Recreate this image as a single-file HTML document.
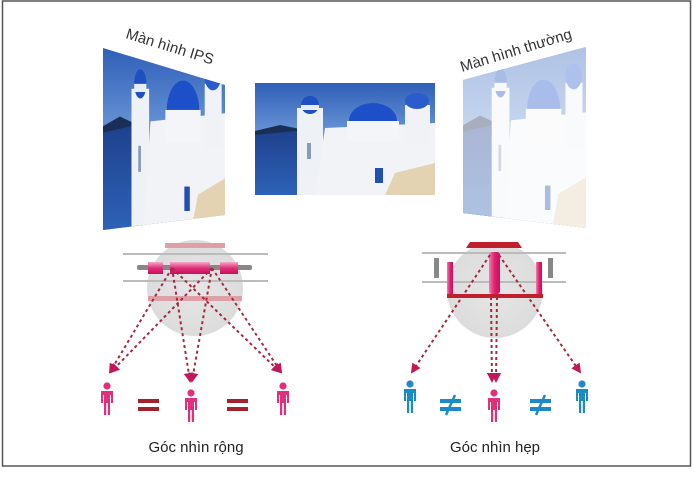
<!DOCTYPE html>
<html><head><meta charset="utf-8"><style>
html,body{margin:0;padding:0;background:#fff;}
svg{display:block;}
text{font-family:"Liberation Sans",sans-serif;}
</style></head><body>
<svg width="694" height="480" viewBox="0 0 694 480" xmlns="http://www.w3.org/2000/svg">
<defs>
<linearGradient id="sky" x1="0" y1="0" x2="0" y2="1"><stop offset="0" stop-color="#2f5fb8"/><stop offset="0.5" stop-color="#6f9ad8"/><stop offset="1" stop-color="#2a4f9a"/></linearGradient>
<linearGradient id="sea" x1="0" y1="0" x2="0" y2="1"><stop offset="0" stop-color="#1d3f8a"/><stop offset="1" stop-color="#2e62b8"/></linearGradient>
<radialGradient id="circ" cx="0.5" cy="0.5" r="0.5"><stop offset="0" stop-color="#e6e6e6"/><stop offset="1" stop-color="#dcdcdc"/></radialGradient>
<linearGradient id="pinkbar" x1="0" y1="0" x2="0" y2="1"><stop offset="0" stop-color="#f7a8c6"/><stop offset="0.5" stop-color="#e0307a"/><stop offset="1" stop-color="#c8105e"/></linearGradient>
<linearGradient id="pinkcyl" x1="0" y1="0" x2="1" y2="0"><stop offset="0" stop-color="#f080b0"/><stop offset="0.5" stop-color="#e0206e"/><stop offset="1" stop-color="#c8105e"/></linearGradient>
<g id="scene">
  <rect x="0" y="0" width="180" height="112" fill="url(#sky)"/>
  <path d="M0 50 L30 44 L60 50 L60 112 L0 112Z" fill="url(#sea)"/>
  <path d="M0 48 L25 42 L50 47 L0 52Z" fill="#1a2f55"/>
  <rect x="42" y="25" width="26" height="87" fill="#eef1f6"/>
  <ellipse cx="55" cy="22" rx="9" ry="9" fill="#1f4fc0"/>
  <rect x="46" y="22" width="18" height="5" fill="#e8ecf3"/>
  <path d="M70 45 L180 40 L180 112 L60 112Z" fill="#f2f3f6"/>
  <ellipse cx="118" cy="38" rx="24" ry="18" fill="#1d4fc8"/>
  <rect x="92" y="38" width="52" height="20" fill="#f4f5f8"/>
  <rect x="150" y="22" width="25" height="40" fill="#f0f2f6"/>
  <ellipse cx="162" cy="18" rx="12" ry="8" fill="#2a5ccc"/>
  <rect x="120" y="85" width="8" height="15" fill="#2350b0"/>
  <path d="M140 90 L180 80 L180 112 L130 112Z" fill="#e3d3b3"/>
  <rect x="52" y="60" width="4" height="16" fill="#8a9ab8"/>
</g>
<clipPath id="cl1"><polygon points="103,48 225,85 225,215 103,230"/></clipPath>
<clipPath id="cl3"><polygon points="463,80 586,47 586,228 463,213"/></clipPath>
<marker id="ar" viewBox="0 0 10 10" refX="8" refY="5" markerWidth="5" markerHeight="5" orient="auto"><path d="M0 0 L10 5 L0 10Z" fill="#c2185b"/></marker>
<g id="person">
  <circle cx="0" cy="-13" r="3.6"/>
  <path d="M-6 -8 H6 V4 H4 V-4 H3 V16 H0.8 V4 H-0.8 V16 H-3 V-4 H-4 V4 H-6Z"/>
</g>
</defs>
<rect x="2.5" y="1" width="688" height="465" fill="#fff" stroke="#555" stroke-width="1.5"/>

<g clip-path="url(#cl1)"><use href="#scene" transform="translate(103,48) scale(0.678,1.63)"/></g>
<use href="#scene" transform="translate(255,83)"/>
<g clip-path="url(#cl3)"><use href="#scene" transform="translate(463,47) scale(0.683,1.63)"/><rect x="463" y="47" width="123" height="181" fill="#fff" opacity="0.62"/></g>

<text x="125" y="38" font-size="15" fill="#333" transform="rotate(17 125 38)">Màn hình IPS</text>
<text x="462" y="72" font-size="15" fill="#333" transform="rotate(-17 462 72)">Màn hình thường</text>

<circle cx="195" cy="288" r="48" fill="url(#circ)"/>
<line x1="123" y1="254" x2="268" y2="254" stroke="#bbb" stroke-width="2"/>
<line x1="123" y1="281" x2="268" y2="281" stroke="#bbb" stroke-width="2"/>
<rect x="165" y="243" width="60" height="5" fill="#dea0a8"/>
<rect x="148" y="296" width="94" height="5" fill="#dea0a8"/>
<rect x="137" y="265" width="115" height="5" rx="2" fill="#888"/>
<rect x="148" y="262" width="15" height="12" fill="url(#pinkbar)"/>
<rect x="170" y="262" width="40" height="12" fill="url(#pinkbar)"/>
<rect x="220" y="262" width="18" height="12" fill="url(#pinkbar)"/>
<g stroke="#a8283e" stroke-width="2" stroke-dasharray="3,3" fill="none" marker-end="url(#ar)">
  <line x1="172" y1="268" x2="110" y2="372"/>
  <line x1="172" y1="268" x2="280" y2="372"/>
  <line x1="212" y1="268" x2="111" y2="372"/>
  <line x1="212" y1="268" x2="281" y2="372"/>
  <line x1="172" y1="268" x2="190" y2="381"/>
  <line x1="212" y1="268" x2="192" y2="381"/>
</g>
<g fill="#e0307a">
  <use href="#person" transform="translate(107,399)"/>
  <use href="#person" transform="translate(191,406)"/>
  <use href="#person" transform="translate(283,399)"/>
</g>
<g fill="#a3202e">
  <rect x="138" y="399" width="21" height="4"/><rect x="138" y="407" width="21" height="4"/>
  <rect x="227" y="399" width="21" height="4"/><rect x="227" y="407" width="21" height="4"/>
</g>
<text x="196" y="452" font-size="15" fill="#222" text-anchor="middle">Góc nhìn rộng</text>

<circle cx="495" cy="290" r="48" fill="url(#circ)"/>
<line x1="422" y1="253" x2="566" y2="253" stroke="#bbb" stroke-width="2"/>
<line x1="422" y1="282" x2="566" y2="282" stroke="#bbb" stroke-width="2"/>
<polygon points="470,242 518,242 522,248 466,248" fill="#c0202e"/>
<rect x="447" y="294" width="96" height="4" fill="#c0202e"/>
<rect x="434" y="258" width="5" height="20" fill="#888"/>
<rect x="548" y="258" width="5" height="20" fill="#888"/>
<rect x="447" y="262" width="6" height="32" fill="url(#pinkcyl)"/>
<rect x="536" y="262" width="6" height="32" fill="url(#pinkcyl)"/>
<rect x="489" y="252" width="11" height="42" rx="3" fill="url(#pinkcyl)"/>
<g stroke="#a8283e" stroke-width="2" stroke-dasharray="3,3" fill="none" marker-end="url(#ar)">
  <line x1="490" y1="255" x2="412" y2="372"/>
  <line x1="499" y1="255" x2="580" y2="372"/>
  <line x1="491" y1="297" x2="492" y2="381"/>
  <line x1="497" y1="297" x2="496" y2="381"/>
</g>
<g fill="#1a8ac8">
  <use href="#person" transform="translate(410,397)"/>
  <use href="#person" transform="translate(582,397)"/>
</g>
<g fill="#e0307a"><use href="#person" transform="translate(494,406)"/></g>
<g fill="#1a8ac8">
  <rect x="440" y="399" width="21" height="4"/><rect x="440" y="407" width="21" height="4"/>
  <rect x="530" y="399" width="21" height="4"/><rect x="530" y="407" width="21" height="4"/>
</g>
<g stroke="#1a8ac8" stroke-width="2.5">
  <line x1="446" y1="415" x2="455" y2="395"/>
  <line x1="536" y1="415" x2="545" y2="395"/>
</g>
<text x="495" y="452" font-size="15" fill="#222" text-anchor="middle">Góc nhìn hẹp</text>
</svg>
</body></html>
